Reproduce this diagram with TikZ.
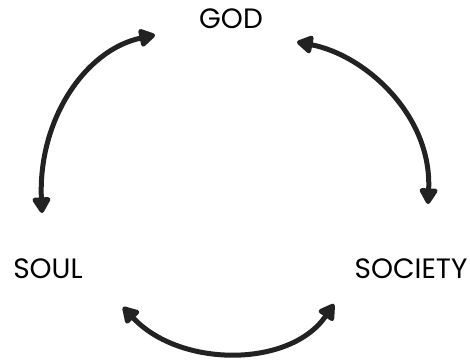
\documentclass[tikz,border=0pt]{standalone}
\usepackage{fontspec}
\setmainfont{Poppins}
\usetikzlibrary{arrows.meta}
\definecolor{sketchink}{HTML}{222222}

\begin{document}
\begin{tikzpicture}[
      x=1pt, y=-1pt,
      word/.style={
        inner sep=0pt,
        text=black,
        font=\fontsize{28}{32}\selectfont
      },
      arr/.style={
        {Triangle[length=18pt,width=20pt,round]}-{Triangle[length=18pt,width=20pt,round]},
        line width=5pt,
        line cap=round,
        sketchink
      }
    ]
    \useasboundingbox (0,0) rectangle (470,360);

    \node[word] (god) at (231,19) {GOD};
    \node[word] (soul) at (48,269) {SOUL};
    \node[word] (society) at (411,269) {SOCIETY};

    % arrow ends
    \coordinate (godL) at (155,35);
    \coordinate (godR) at (297,42);
    \coordinate (soulT) at (42,213);
    \coordinate (socT) at (428,204);
    \coordinate (soulB) at (123,307);
    \coordinate (socB) at (334,304);

    \draw[arr] (soulT) .. controls (38,120) and (85,50) .. (godL);
    \draw[arr] (godR) .. controls (365,55) and (432,115) .. (socT);
    \draw[arr] (soulB) .. controls (180,368) and (290,368) .. (socB);

  \end{tikzpicture}
\end{document}
